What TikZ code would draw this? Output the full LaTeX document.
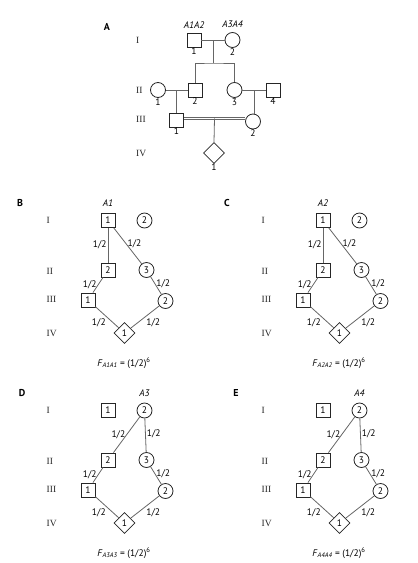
\documentclass[tikz,border=0pt]{standalone}
\usepackage{fontspec}
\setmainfont{Liberation Serif}
\setsansfont{PT Sans}
\usetikzlibrary{positioning, shapes.geometric, calc}

\begin{document}
\begin{tikzpicture}[
    x=1pt, y=-1pt,
    male/.style={rectangle, draw=black!85, line width=0.8pt, minimum size=14pt, inner sep=0pt, font=\sffamily\fontsize{9.5}{10}\selectfont},
    female/.style={circle, draw=black!85, line width=0.8pt, minimum size=15pt, inner sep=0pt, font=\sffamily\fontsize{9.5}{10}\selectfont},
    unknown/.style={diamond, draw=black!85, line width=0.8pt, minimum size=21pt, inner sep=0pt, font=\sffamily\fontsize{9.5}{10}\selectfont},
    link/.style={draw=black!60, line width=0.8pt},
    consang/.style={draw=black!60, line width=0.6pt, double, double distance=1.4pt},
    gen/.style={anchor=west, inner sep=0pt, font=\rmfamily\fontsize{9.5}{10}\selectfont, text=black!85},
    panel/.style={inner sep=0pt, font=\sffamily\bfseries\fontsize{10}{11}\selectfont},
    allele/.style={inner sep=1pt, font=\sffamily\itshape\fontsize{9.5}{10}\selectfont},
    prob/.style={inner sep=1pt, font=\sffamily\fontsize{9.5}{10}\selectfont},
    numlab/.style={inner sep=0.5pt, font=\sffamily\fontsize{9.5}{10}\selectfont},
    coeff/.style={inner sep=0pt, font=\sffamily\fontsize{9.5}{10}\selectfont}
]
\useasboundingbox (0,0) rectangle (418,563);

% Panel A: full pedigree
\node[panel] (Alab) at (107,27) {A};
\node[gen] (Ag1) at (136,40) {I};
\node[gen] (Ag2) at (136,90) {II};
\node[gen] (Ag3) at (136,119) {III};
\node[gen] (Ag4) at (136,153) {IV};

\node[male]   (A11) at (194,40)   [label={[numlab]below:1}] {};
\node[female] (A12) at (232.5,40) [label={[numlab]below:2}] {};
\node[allele, above=3pt of A11] (A11al) {A1A2};
\node[allele, above=3pt of A12] (A12al) {A3A4};

\node[female] (A21) at (158,90)   [label={[numlab]below:1}] {};
\node[male]   (A22) at (195,90)   [label={[numlab]below:2}] {};
\node[female] (A23) at (234.5,90) [label={[numlab]below:3}] {};
\node[male]   (A24) at (273,90)   [label={[numlab]below:4}] {};

\node[male]   (A31) at (176.5,120) [label={[numlab]below:1}] {};
\node[female] (A32) at (253,121.5) [label={[numlab]below:2}] {};

\node[unknown] (A41) at (214,153) [label={[numlab, label distance=-1pt]below:1}] {};

% Matings and descent lines
\draw[link] (A11) -- (A12);
\coordinate (Am1) at ($(A11.east)!0.5!(A12.west)$);
\coordinate (Asib) at ([yshift=-23pt]Am1);
\draw[link] (Am1) -- (Asib);
\draw[link] (A22) |- (Asib) -| (A23);

\draw[link] (A21) -- (A22);
\coordinate (Am2) at ($(A21.east)!0.5!(A22.west)$);
\draw[link] (Am2) -- (Am2 |- A31.north);

\draw[link] (A23) -- (A24);
\coordinate (Am3) at ($(A23.east)!0.5!(A24.west)$);
\draw[link] (Am3) -- (Am3 |- A32.north);

\coordinate (Ac1) at ([yshift=1.5pt]A31.east);
\coordinate (Ac2) at (Ac1 -| A32.west);
\draw[consang] (Ac1) -- (Ac2);
\coordinate (Am4) at ($(Ac1)!0.5!(Ac2)$);
\draw[link] (Am4) -- (A41.north);

% Panels B-E: allele paths
\foreach \p/\dx/\dy/\lx/\apex/\alle in {B/0/0/20/s1/A1, C/215/0/12/s1/A2, D/0/190/22/c2/A3, E/215/190/21/c2/A4} {
  \begin{scope}[shift={(\dx,\dy)}]
    \node[panel] (\p lab) at (\lx,203) {\p};
    \node[gen] (\p g1) at (46.5,220) {I};
    \node[gen] (\p g2) at (46.5,271) {II};
    \node[gen] (\p g3) at (46.5,299) {III};
    \node[gen] (\p g4) at (46.5,333) {IV};

    \node[male]    (\p s1) at (108,220.5) {1};
    \node[female]  (\p c2) at (144.5,220.5) {2};
    \node[male]    (\p s2) at (108,270) {2};
    \node[female]  (\p c3) at (146.5,270) {3};
    \node[male]    (\p s3) at (88,300) {1};
    \node[female]  (\p c4) at (165.5,301) {2};
    \node[unknown] (\p d)  at (124.5,333) {1};
    \node[allele, above=5pt of \p\apex] (\p al) {\alle};

    \draw[link] (\p\apex) -- (\p s2) node[prob, midway, left] {1/2};
    \draw[link] (\p\apex) -- (\p c3) node[prob, pos=0.45, right] {1/2};
    \draw[link] (\p s2) -- (\p s3) node[prob, midway, left] {1/2};
    \draw[link] (\p c3) -- (\p c4) node[prob, pos=0.4, right] {1/2};
    \draw[link] (\p s3) -- (\p d) node[prob, midway, below left] {1/2};
    \draw[link] (\p c4) -- (\p d) node[prob, midway, below right] {1/2};

    \node[coeff] (\p F) at (124,363) {\textit{F}\textsubscript{\textit{\alle\alle}} = (1/2)\textsuperscript{6}};
  \end{scope}
}

\end{tikzpicture}
\end{document}
